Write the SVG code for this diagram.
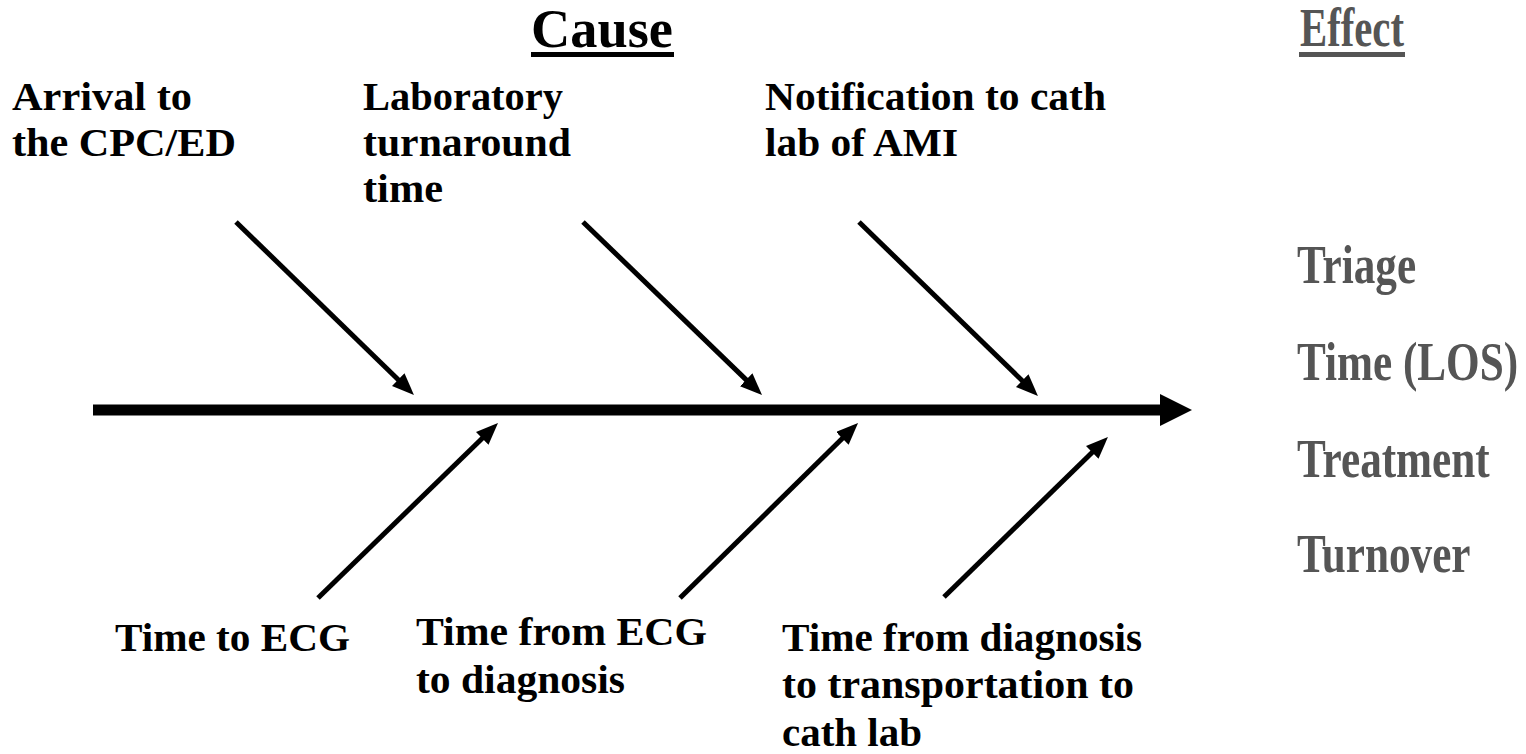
<svg xmlns="http://www.w3.org/2000/svg" width="1526" height="754" viewBox="0 0 1526 754">
<style>
.lbl{font-family:"Liberation Serif","Times New Roman",serif;font-weight:bold;font-size:41px;fill:#000}
.ttl{font-family:"Liberation Serif","Times New Roman",serif;font-weight:bold;font-size:55px}
.eff{font-family:"Liberation Serif","Times New Roman",serif;font-weight:bold;font-size:54px;fill:#555}
.bone{stroke:#000;stroke-width:5;fill:none}
</style>
<defs>
<marker id="ah" markerUnits="userSpaceOnUse" viewBox="0 0 22 18" refX="12" refY="9" markerWidth="22" markerHeight="18" orient="auto">
<path d="M0,0 L22,9 L0,18 z" fill="#000"/>
</marker>
</defs>
<rect width="1526" height="754" fill="#fff"/>
<g id="titles">
<text class="ttl" x="531" y="47" fill="#000" textLength="142" lengthAdjust="spacingAndGlyphs">Cause</text>
<rect x="531" y="52" width="143" height="5" fill="#000"/>
<text class="ttl" x="1300" y="46" fill="#555" textLength="104" lengthAdjust="spacingAndGlyphs">Effect</text>
<rect x="1299" y="52" width="106" height="5" fill="#555"/>
</g>
<g id="connectors">
<line x1="93" y1="410" x2="1164" y2="410" stroke="#000" stroke-width="11"/>
<polygon points="1160,394 1192,410 1160,426" fill="#000"/>
<line class="bone" x1="236" y1="222" x2="406.8" y2="388" marker-end="url(#ah)"/>
<line class="bone" x1="583" y1="222" x2="754.8" y2="388.1" marker-end="url(#ah)"/>
<line class="bone" x1="859" y1="222" x2="1030.8" y2="389" marker-end="url(#ah)"/>
<line class="bone" x1="318" y1="598" x2="490.8" y2="430" marker-end="url(#ah)"/>
<line class="bone" x1="680" y1="598" x2="850.9" y2="430" marker-end="url(#ah)"/>
<line class="bone" x1="944" y1="597" x2="1100.8" y2="444" marker-end="url(#ah)"/>
</g>
<g id="arrival">
<text class="lbl" x="12" y="110" textLength="180" lengthAdjust="spacingAndGlyphs">Arrival to</text>
<text class="lbl" x="12" y="156" textLength="224" lengthAdjust="spacingAndGlyphs">the CPC/ED</text>
</g>
<g id="laboratory">
<text class="lbl" x="363" y="110" textLength="200" lengthAdjust="spacingAndGlyphs">Laboratory</text>
<text class="lbl" x="363" y="156" textLength="208" lengthAdjust="spacingAndGlyphs">turnaround</text>
<text class="lbl" x="363" y="202" textLength="80" lengthAdjust="spacingAndGlyphs">time</text>
</g>
<g id="notification">
<text class="lbl" x="765" y="110" textLength="341" lengthAdjust="spacingAndGlyphs">Notification to cath</text>
<text class="lbl" x="765" y="156" textLength="193" lengthAdjust="spacingAndGlyphs">lab of AMI</text>
</g>
<g id="time-to-ecg">
<text class="lbl" x="115" y="651" textLength="235" lengthAdjust="spacingAndGlyphs">Time to ECG</text>
</g>
<g id="ecg-to-diagnosis">
<text class="lbl" x="416" y="645" textLength="291" lengthAdjust="spacingAndGlyphs">Time from ECG</text>
<text class="lbl" x="416" y="693" textLength="209" lengthAdjust="spacingAndGlyphs">to diagnosis</text>
</g>
<g id="diagnosis-to-transport">
<text class="lbl" x="782" y="651" textLength="360" lengthAdjust="spacingAndGlyphs">Time from diagnosis</text>
<text class="lbl" x="782" y="698" textLength="352" lengthAdjust="spacingAndGlyphs">to transportation to</text>
<text class="lbl" x="782" y="746" textLength="140" lengthAdjust="spacingAndGlyphs">cath lab</text>
</g>
<g id="effects" transform="translate(1297,0) scale(0.8,1)">
<text class="eff" x="0" y="283">Triage</text>
<text class="eff" x="0" y="380">Time (LOS)</text>
<text class="eff" x="0" y="477">Treatment</text>
<text class="eff" x="0" y="572">Turnover</text>
</g>
</svg>
